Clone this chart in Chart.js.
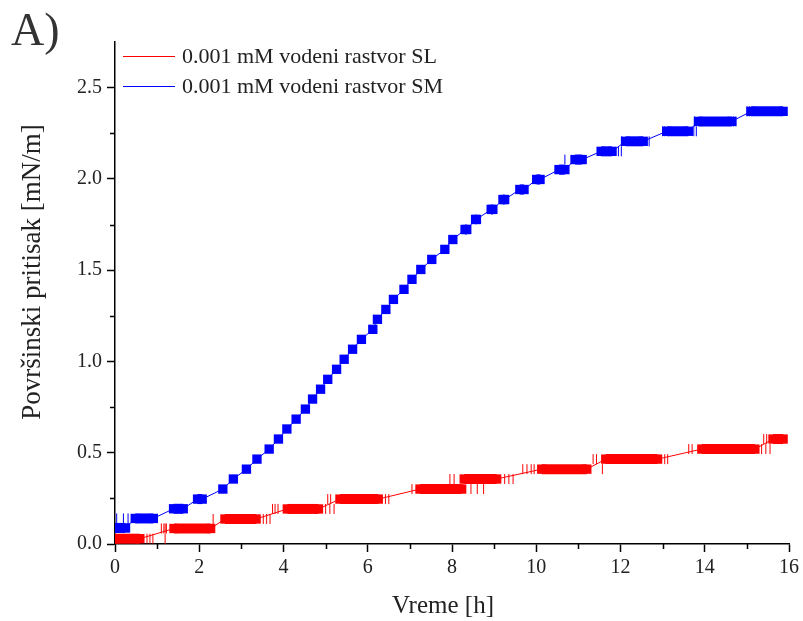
<!DOCTYPE html>
<html>
<head>
<meta charset="utf-8">
<script src="https://cdn.jsdelivr.net/npm/chart.js@4.4.1/dist/chart.umd.min.js"></script>
<style>
  html, body { margin: 0; padding: 0; background: #fff; }
  #wrap { width: 803px; height: 621px; }
</style>
</head>
<body>
<div id="wrap"><canvas id="chart" width="803" height="621"></canvas></div>
<script>
// axis ticks
const xTicks = [0, 2, 4, 6, 8, 10, 12, 14, 16];
const xMinorTicks = [1, 3, 5, 7, 9, 11, 13, 15];
const yTicks = [0, 0.5, 1.0, 1.5, 2.0, 2.5];
const yMinorTicks = [0.25, 0.75, 1.25, 1.75, 2.25];

const seriesNames = ['0.001 mM vodeni rastvor SL', '0.001 mM vodeni rastvor SM'];

// SL (red): plateaus of the stepped signal, start / end time [h] and level [mN/m]
const slStart = [0.00, 1.40, 2.61, 4.09, 5.34, 7.24, 8.29, 10.13, 11.65, 13.93, 15.62];
const slEnd   = [0.59, 2.27, 3.35, 4.83, 6.25, 8.23, 9.06, 11.20, 12.88, 15.19, 15.86];
const slLevel = [0.029, 0.085, 0.137, 0.192, 0.246, 0.301, 0.356, 0.410, 0.465, 0.520, 0.575];
// single noisy readings around the plateau edges
const slFlickX = [0.76, 0.83, 0.90, 1.19, 1.19, 1.10, 1.16, 1.22, 2.33, 3.52, 3.60, 3.68,
                  3.74, 3.80, 3.87, 5.00, 5.10, 5.20, 5.05, 5.12, 6.42, 6.50, 7.05,
                  8.45, 8.60, 8.75, 7.95, 8.05, 9.25, 9.35, 9.45, 9.68, 9.78, 9.88, 9.95,
                  11.57, 11.35, 11.43, 13.05, 13.12, 13.62, 13.70, 15.35, 15.45, 15.55, 15.40, 15.47];
const slFlickY = [0.029, 0.029, 0.029, 0.029, 0.085, 0.085, 0.085, 0.085, 0.137, 0.137, 0.137, 0.137,
                  0.192, 0.192, 0.192, 0.192, 0.192, 0.192, 0.246, 0.246, 0.246, 0.246, 0.301,
                  0.301, 0.301, 0.301, 0.356, 0.356, 0.356, 0.356, 0.356, 0.410, 0.410, 0.410, 0.410,
                  0.410, 0.465, 0.465, 0.465, 0.465, 0.520, 0.520, 0.520, 0.520, 0.520, 0.575, 0.575];

// SM (blue)
const smStart = [0.00, 0.48, 1.39, 1.96, 2.56, 2.81, 3.12, 3.37, 3.66, 3.88, 4.08, 4.30, 4.52,
                 4.69, 4.88, 5.05, 5.26, 5.44, 5.64, 5.85, 6.12, 6.23, 6.43, 6.61, 6.86, 7.05,
                 7.26, 7.52, 7.83, 8.02, 8.31, 8.56, 8.93, 9.21, 9.61, 10.01, 10.54, 10.92,
                 11.54, 12.12, 13.10, 13.85, 15.10];
const smEnd   = [0.25, 0.91, 1.62, 2.07, 2.56, 2.81, 3.12, 3.37, 3.66, 3.88, 4.08, 4.30, 4.52,
                 4.69, 4.88, 5.05, 5.26, 5.44, 5.64, 5.85, 6.12, 6.23, 6.43, 6.61, 6.86, 7.05,
                 7.26, 7.52, 7.83, 8.02, 8.35, 8.58, 8.97, 9.25, 9.71, 10.09, 10.68, 11.09,
                 11.80, 12.54, 13.61, 14.64, 15.86];
const smLevel = [0.088, 0.140, 0.193, 0.246, 0.301, 0.356, 0.410, 0.465, 0.520, 0.575, 0.630, 0.684, 0.739,
                 0.794, 0.848, 0.902, 0.957, 1.012, 1.067, 1.121, 1.176, 1.231, 1.285, 1.340, 1.395, 1.450,
                 1.504, 1.559, 1.614, 1.668, 1.723, 1.778, 1.833, 1.887, 1.942, 1.997, 2.051, 2.106,
                 2.151, 2.206, 2.261, 2.315, 2.370];
const smFlickX = [0.04, 0.04, 0.12, 0.20, 0.20, 0.31, 0.31, 10.68, 11.95, 12.02, 12.03, 12.68,
                  13.00, 13.05, 13.74, 13.80, 13.76, 14.68, 14.74, 15.00, 15.06];
const smFlickY = [0.088, 0.140, 0.088, 0.088, 0.140, 0.088, 0.140, 2.106, 2.151, 2.151, 2.206, 2.206,
                  2.261, 2.261, 2.261, 2.261, 2.315, 2.315, 2.315, 2.370, 2.370];

const RED = '#ff0000';
const BLUE = '#0000ff';
const SERIF = "'Liberation Serif', 'Times New Roman', serif";

function stepPoints(starts, ends, levels) {
    const pts = [];
    for (let i = 0; i < starts.length; i++) {
        pts.push({ x: starts[i], y: levels[i] });
        if (ends[i] !== starts[i]) pts.push({ x: ends[i], y: levels[i] });
    }
    return pts;
}

function zipPoints(xs, ys) {
    return xs.map((x, i) => ({ x: x, y: ys[i] }));
}

function stepDataset(label, color, points) {
    return {
        type: 'line',
        label: label,
        data: points,
        borderColor: color,
        backgroundColor: color,
        borderWidth: 1,
        borderCapStyle: 'butt',
        pointStyle: 'rect',
        pointRadius: 6.6,
        pointBorderWidth: 0,
        pointBackgroundColor: color,
        tension: 0,
        segment: {
            // long runs of identical readings merge into a solid block
            borderWidth: (ctx) => (ctx.p0.parsed.y === ctx.p1.parsed.y ? 10 : 1),
        },
    };
}

function flickDataset(color, points) {
    return {
        type: 'scatter',
        label: '',
        data: points,
        showLine: false,
        pointStyle: 'line',
        rotation: 90,
        pointRadius: 5,
        pointBorderWidth: 1,
        pointBorderColor: color,
        pointBackgroundColor: color,
    };
}

const decorPlugin = {
    id: 'decor',
    afterDraw(chart) {
        const ctx = chart.ctx;
        const area = chart.chartArea;
        const xs = chart.scales.x;
        const ys = chart.scales.y;
        ctx.save();

        // minor ticks
        ctx.strokeStyle = '#000';
        ctx.lineWidth = 1.5;
        ctx.beginPath();
        xMinorTicks.forEach((v) => {
            const px = Math.round(xs.getPixelForValue(v)) + 0.5;
            ctx.moveTo(px, area.bottom);
            ctx.lineTo(px, area.bottom + 5);
        });
        yMinorTicks.forEach((v) => {
            const py = Math.round(ys.getPixelForValue(v)) + 0.5;
            ctx.moveTo(area.left, py);
            ctx.lineTo(area.left - 5, py);
        });
        ctx.stroke();

        // legend
        const colors = [RED, BLUE];
        ctx.font = '22px ' + SERIF;
        ctx.textBaseline = 'middle';
        ctx.textAlign = 'left';
        seriesNames.forEach((name, i) => {
            const y = 56 + i * 30;
            ctx.strokeStyle = colors[i];
            ctx.lineWidth = 1;
            ctx.beginPath();
            ctx.moveTo(123, y + 0.5);
            ctx.lineTo(175, y + 0.5);
            ctx.stroke();
            ctx.fillStyle = '#222';
            ctx.fillText(name, 182, y + 1);
        });

        // panel letter
        ctx.fillStyle = '#333';
        ctx.font = '46px ' + SERIF;
        ctx.textBaseline = 'alphabetic';
        ctx.fillText('A)', 11, 45);

        // axis titles
        ctx.fillStyle = '#222';
        ctx.font = '25px ' + SERIF;
        ctx.textAlign = 'center';
        ctx.textBaseline = 'middle';
        ctx.fillText('Vreme [h]', 443, 606);
        ctx.font = '27px ' + SERIF;
        ctx.translate(33, 272);
        ctx.rotate(-Math.PI / 2);
        ctx.fillText('Površinski pritisak [mN/m]', 0, 0);
        ctx.restore();
    },
};

const ctx = document.getElementById('chart').getContext('2d');
new Chart(ctx, {
    data: {
        datasets: [
            stepDataset(seriesNames[1], BLUE, stepPoints(smStart, smEnd, smLevel)),
            stepDataset(seriesNames[0], RED, stepPoints(slStart, slEnd, slLevel)),
            flickDataset(BLUE, zipPoints(smFlickX, smFlickY)),
            flickDataset(RED, zipPoints(slFlickX, slFlickY)),
        ],
    },
    options: {
        responsive: false,
        animation: false,
        devicePixelRatio: 1,
        layout: { padding: { left: 0, right: 14, top: 42, bottom: 0 } },
        scales: {
            x: {
                type: 'linear',
                min: 0,
                max: 16,
                afterBuildTicks: (scale) => { scale.ticks = xTicks.map((v) => ({ value: v })); },
                afterFit: (scale) => { scale.height = 77; },
                ticks: {
                    color: '#222',
                    padding: 4,
                    maxRotation: 0,
                    font: { family: SERIF, size: 20 },
                    callback: (v) => String(v),
                },
                grid: { drawOnChartArea: false, tickLength: 8, tickColor: '#000', tickWidth: 1.5 },
                border: { color: '#000', width: 1.5 },
            },
            y: {
                type: 'linear',
                min: 0,
                max: 2.75,
                afterBuildTicks: (scale) => { scale.ticks = yTicks.map((v) => ({ value: v })); },
                afterFit: (scale) => { scale.width = 115; },
                ticks: {
                    color: '#222',
                    padding: 5,
                    font: { family: SERIF, size: 20 },
                    callback: (v) => Number(v).toFixed(1),
                },
                grid: { drawOnChartArea: false, tickLength: 8, tickColor: '#000', tickWidth: 1.5 },
                border: { color: '#000', width: 1.5 },
            },
        },
        plugins: {
            legend: { display: false },
            tooltip: { enabled: false },
        },
    },
    plugins: [decorPlugin],
});
</script>
</body>
</html>
